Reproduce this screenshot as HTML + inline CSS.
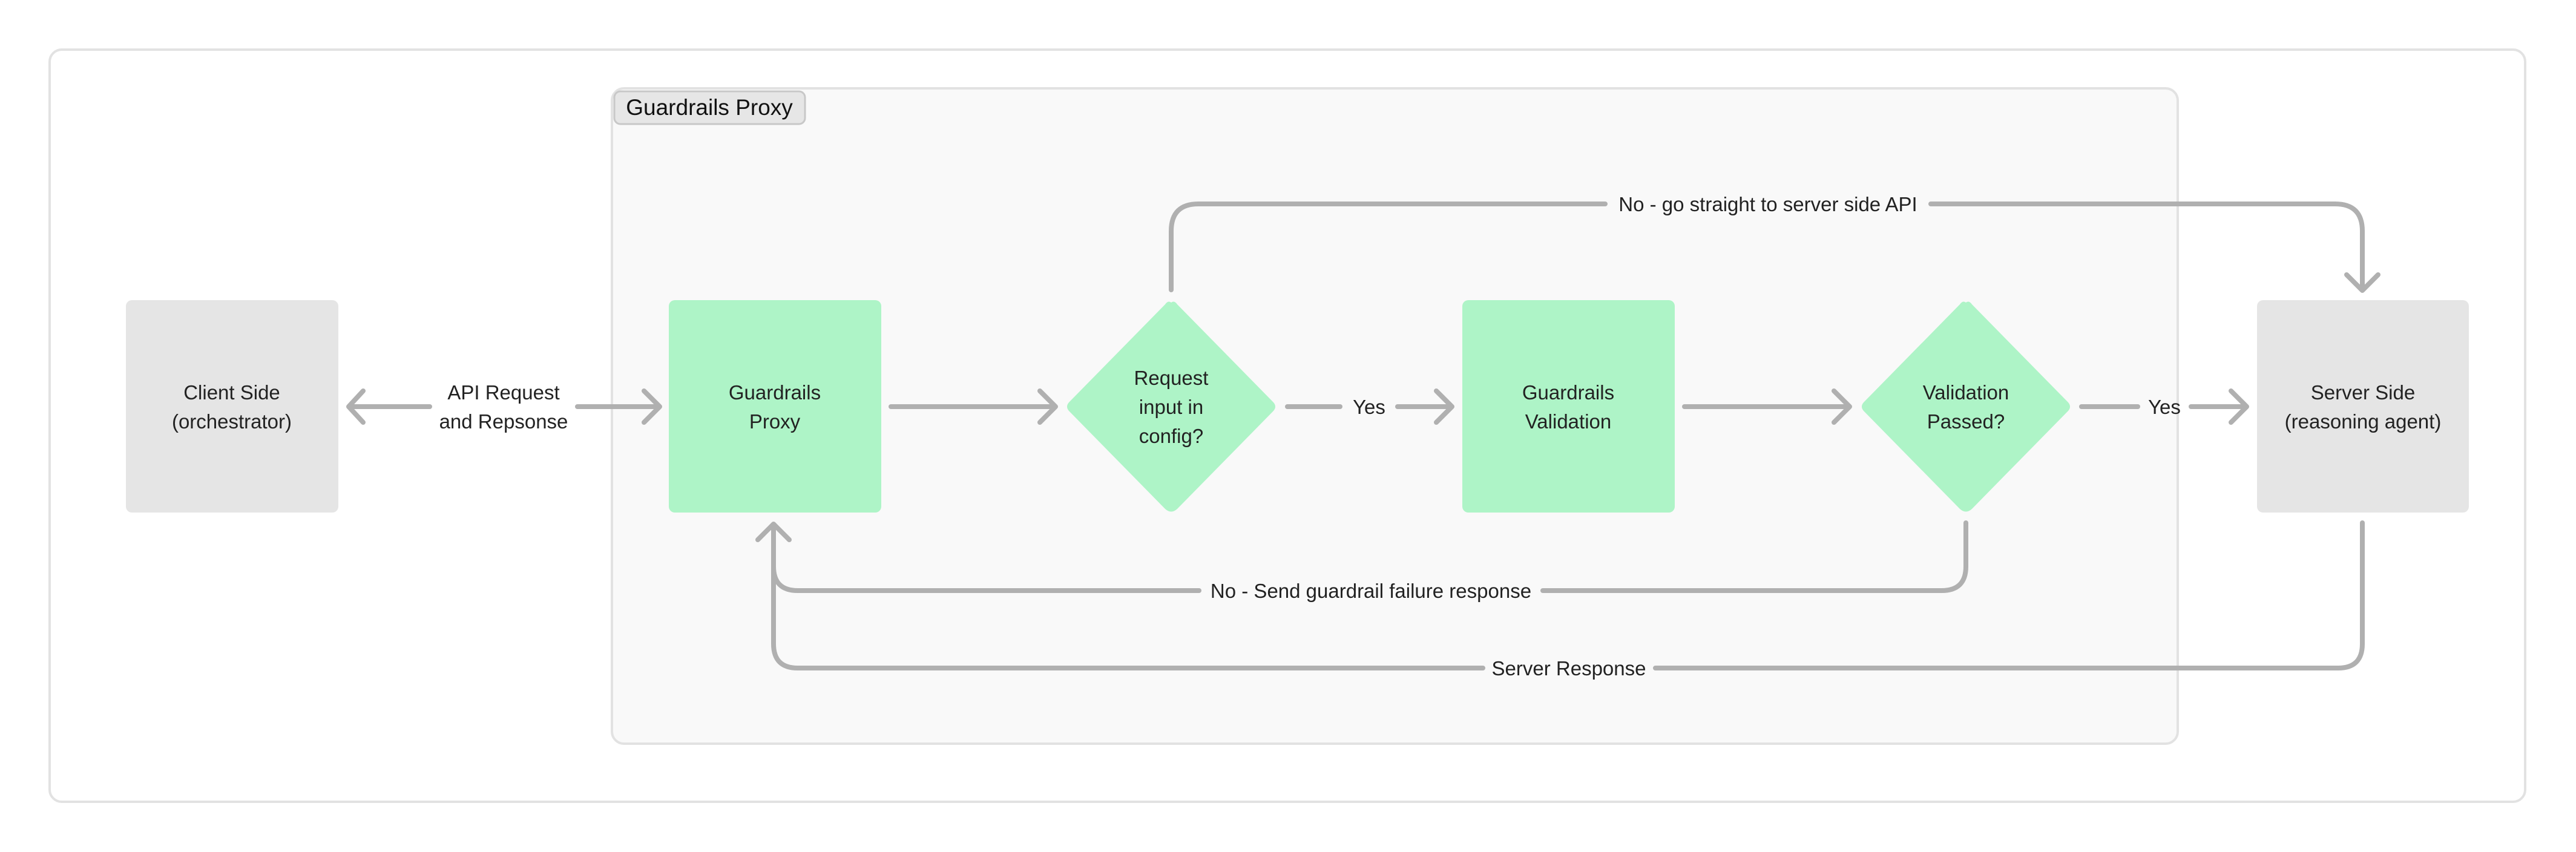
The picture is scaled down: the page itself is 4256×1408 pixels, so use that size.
<!DOCTYPE html>
<html><head><meta charset="utf-8"><style>
html,body{margin:0;padding:0;background:#fff}
svg{display:block}
text{font-family:"Liberation Sans",sans-serif;font-size:33px;fill:#222}
</style></head><body>
<svg width="4256" height="1408" viewBox="0 0 4256 1408" xmlns="http://www.w3.org/2000/svg">
<rect x="82" y="82" width="4090" height="1243" rx="20" fill="#fff" stroke="#e2e2e2" stroke-width="4"/>
<rect x="1011" y="146" width="2587" height="1083" rx="20" fill="#f9f9f9" stroke="#e2e2e2" stroke-width="4"/>
<rect x="1015" y="151" width="315" height="54" rx="10" fill="#e6e6e6" stroke="#c8c8c8" stroke-width="3"/>
<text x="1172" y="190" text-anchor="middle" style="font-size:37px;fill:#111">Guardrails Proxy</text>

<g fill="#e5e5e5">
<rect x="208" y="496" width="351" height="351" rx="10"/>
<rect x="3729" y="496" width="350" height="351" rx="10"/>
</g>
<g fill="#aef4c7">
<rect x="1105" y="496" width="351" height="351" rx="10"/>
<rect x="2416" y="496" width="351" height="351" rx="10"/>
<path d="M1935 500 Q1940 496 1945 503 L2104 665 Q2110 672 2104 679 L1945 841 Q1935 850 1925 841 L1766 679 Q1760 672 1766 665 L1925 503 Q1930 496 1935 500Z"/>
<path d="M3248 500 Q3253 496 3258 503 L3417 665 Q3423 672 3417 679 L3258 841 Q3248 850 3238 841 L3079 679 Q3073 672 3079 665 L3238 503 Q3243 496 3248 500Z"/>
</g>

<g fill="none" stroke="#b0b0b0" stroke-width="8" stroke-linecap="round" stroke-linejoin="round">
<!-- client <-> proxy -->
<line x1="578" y1="672" x2="710" y2="672"/>
<polyline points="600,646 576,672 600,698"/>
<line x1="954" y1="672" x2="1088" y2="672"/>
<polyline points="1064,646 1090,672 1064,698"/>
<!-- GP -> D1 -->
<line x1="1472" y1="672" x2="1742" y2="672"/>
<polyline points="1718,646 1744,672 1718,698"/>
<!-- D1 yes -> GV -->
<line x1="2127" y1="672" x2="2214" y2="672"/>
<line x1="2309" y1="672" x2="2397" y2="672"/>
<polyline points="2373,646 2399,672 2373,698"/>
<!-- GV -> D2 -->
<line x1="2783" y1="672" x2="3054" y2="672"/>
<polyline points="3030,646 3056,672 3030,698"/>
<!-- D2 yes -> server -->
<line x1="3439" y1="672" x2="3532" y2="672"/>
<line x1="3620" y1="672" x2="3710" y2="672"/>
<polyline points="3686,646 3712,672 3686,698"/>
<!-- top loop -->
<path d="M1935 479 L1935 382 Q1935 337 1980 337 L2652 337"/>
<path d="M3190 337 L3858 337 Q3903 337 3903 382 L3903 478"/>
<polyline points="3877,454 3903,480 3929,454"/>
<!-- bottom loop 1 -->
<path d="M3248 864 L3248 936 Q3248 976 3208 976 L2549 976"/>
<path d="M1981 976 L1318 976 Q1278 976 1278 936 L1278 868"/>
<polyline points="1252,892 1278,866 1304,892"/>
<!-- bottom loop 2 -->
<path d="M3903 864 L3903 1064 Q3903 1104 3863 1104 L2735 1104"/>
<path d="M2450 1104 L1318 1104 Q1278 1104 1278 1064 L1278 936"/>
</g>

<g text-anchor="middle">
<text x="383" y="660">Client Side</text>
<text x="383" y="708">(orchestrator)</text>
<text x="832" y="660">API Request</text>
<text x="832" y="708">and Repsonse</text>
<text x="1280" y="660">Guardrails</text>
<text x="1280" y="708">Proxy</text>
<text x="1935" y="636">Request</text>
<text x="1935" y="684">input in</text>
<text x="1935" y="732">config?</text>
<text x="2262" y="684">Yes</text>
<text x="2591" y="660">Guardrails</text>
<text x="2591" y="708">Validation</text>
<text x="3248" y="660">Validation</text>
<text x="3248" y="708">Passed?</text>
<text x="3576" y="684">Yes</text>
<text x="3904" y="660">Server Side</text>
<text x="3904" y="708">(reasoning agent)</text>
<text x="2921" y="349">No - go straight to server side API</text>
<text x="2265" y="988">No - Send guardrail failure response</text>
<text x="2592" y="1116">Server Response</text>
</g>
</svg>
</body></html>
